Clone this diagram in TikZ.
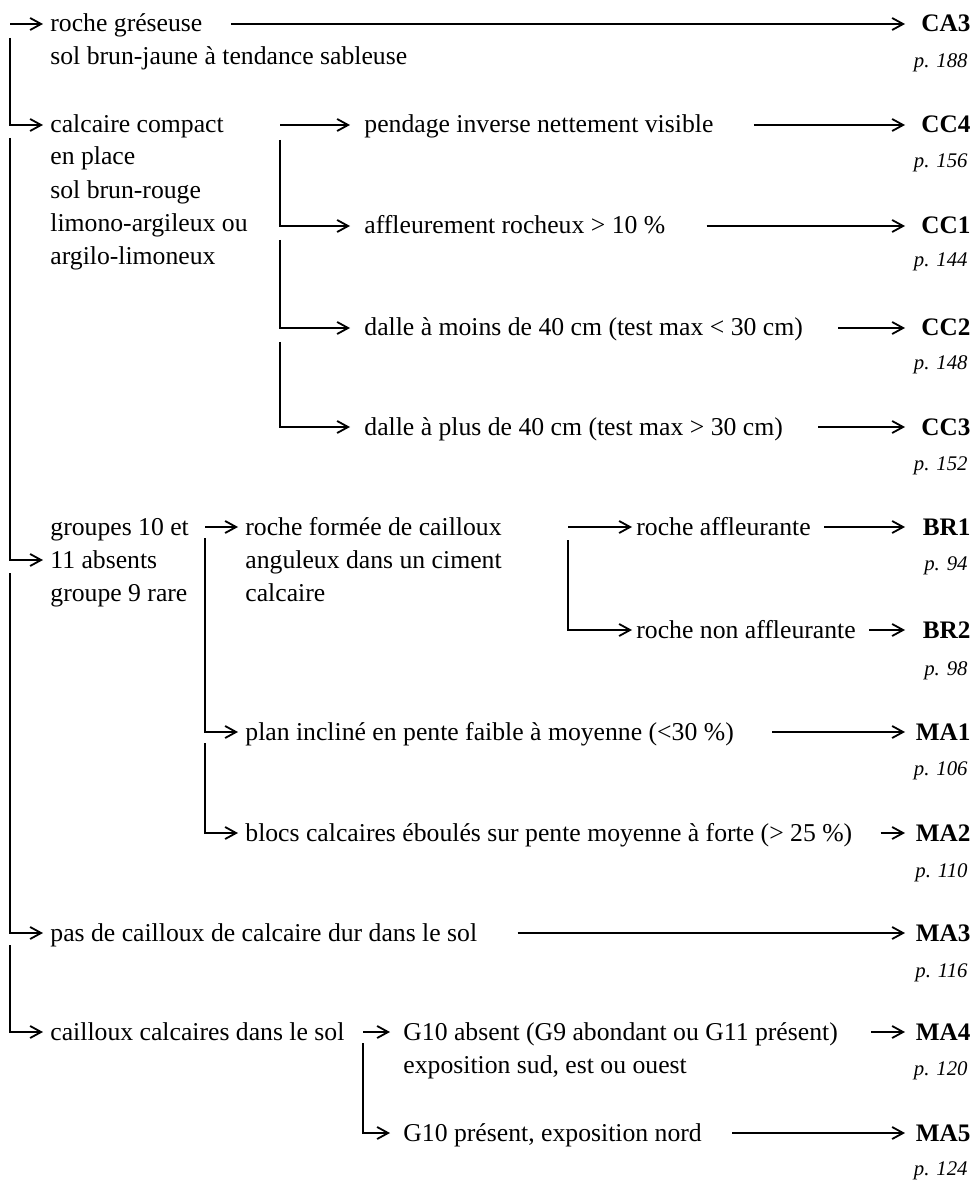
\documentclass[tikz,border=0pt]{standalone}
\usepackage{fontspec}
\setmainfont{Liberation Serif}
\usetikzlibrary{arrows.meta}
\begin{document}
\begin{tikzpicture}[x=0.5pt,y=-0.5pt,
  txt/.style={anchor=base west, inner sep=0pt, text height=10pt, text depth=2pt, font=\fontsize{12.85}{16.5}\selectfont},
  code/.style={anchor=base west, inner sep=0pt, text height=10pt, text depth=2pt, text width=30pt, align=right, font=\fontsize{12.6}{15}\selectfont\bfseries},
  pg/.style={anchor=base east, inner sep=0pt, font=\fontsize{10.4}{13}\selectfont\itshape},
  arr/.style={line width=0.9pt, -{Straight Barb[length=5.5pt,width=6pt]}, shorten >=3.5pt},
  tocode/.style={arr, shorten >=2.5pt}
]
\useasboundingbox (0,0) rectangle (974,1181);
% column positions
\coordinate (xT) at (10,0);
\coordinate (xB1) at (280,0);
\coordinate (xB2) at (205,0);
\coordinate (xB3) at (568,0);
\coordinate (xB4) at (363,0);

% ---- texts
\node[txt] (rg) at (50,32) {roche gréseuse};
\node[txt] (rg2) at (50,65) {sol brun-jaune à tendance sableuse};
\node[code] (CA3) at (910,32) {CA3};
\node[pg] (pCA3) at (968,68) {p. 188};

\node[txt] (cc) at (50,133) {calcaire compact};
\node[txt] (cc2) at (50,165) {en place};
\node[txt] (cc3) at (50,199) {sol brun-rouge};
\node[txt] (cc4) at (50,232) {limono-argileux ou};
\node[txt] (cc5) at (50,265) {argilo-limoneux};

\node[txt] (pi) at (364,133) {pendage inverse nettement visible};
\node[code] (CC4) at (910,133) {CC4};
\node[pg] (pCC4) at (968,168) {p. 156};

\node[txt] (af) at (364,234) {affleurement rocheux > 10 \%};
\node[code] (CC1) at (910,234) {CC1};
\node[pg] (pCC1) at (968,267) {p. 144};

\node[txt] (dm) at (364,336) {dalle à moins de 40 cm (test max < 30 cm)};
\node[code] (CC2) at (910,336) {CC2};
\node[pg] (pCC2) at (968,370) {p. 148};

\node[txt] (dp) at (364,435) {dalle à plus de 40 cm (test max > 30 cm)};
\node[code] (CC3) at (910,435) {CC3};
\node[pg] (pCC3) at (968,470) {p. 152};

\node[txt] (g1) at (50,535) {groupes 10 et};
\node[txt] (g2) at (50,568) {11 absents};
\node[txt] (g3) at (50,601) {groupe 9 rare};

\node[txt] (rf) at (245,535) {roche formée de cailloux};
\node[txt] (rf2) at (245,568) {anguleux dans un ciment};
\node[txt] (rf3) at (245,601) {calcaire};

\node[txt] (ra) at (636,535) {roche affleurante};
\node[code] (BR1) at (910,535) {BR1};
\node[pg] (pBR1) at (968,570) {p. 94};

\node[txt] (rn) at (636,638) {roche non affleurante};
\node[code] (BR2) at (910,638) {BR2};
\node[pg] (pBR2) at (968,675) {p. 98};

\node[txt] (pl) at (245,740) {plan incliné en pente faible à moyenne (<30 \%)};
\node[code] (MA1) at (910,740) {MA1};
\node[pg] (pMA1) at (968,775) {p. 106};

\node[txt] (bl) at (245,841) {blocs calcaires éboulés sur pente moyenne à forte (> 25 \%)};
\node[code] (MA2) at (910,841) {MA2};
\node[pg] (pMA2) at (968,877) {p. 110};

\node[txt] (pc) at (50,941) {pas de cailloux de calcaire dur dans le sol};
\node[code] (MA3) at (910,941) {MA3};
\node[pg] (pMA3) at (968,977) {p. 116};

\node[txt] (cs) at (50,1040) {cailloux calcaires dans le sol};
\node[txt] (ga) at (403,1040) {G10 absent (G9 abondant ou G11 présent)};
\node[txt] (ga2) at (403,1073) {exposition sud, est ou ouest};
\node[code] (MA4) at (910,1040) {MA4};
\node[pg] (pMA4) at (968,1075) {p. 120};

\node[txt] (gp) at (403,1141) {G10 présent, exposition nord};
\node[code] (MA5) at (910,1141) {MA5};
\node[pg] (pMA5) at (968,1175) {p. 124};

% ---- trunk
\draw[arr] (rg.west -| xT) -- (rg.west);
\draw[arr] (10,38) |- (cc.west);
\draw[arr] (10,138) |- (g2.west);
\draw[arr] (10,573) |- (pc.west);
\draw[arr] (10,945) |- (cs.west);

% ---- branch from calcaire compact
\draw[arr, shorten >=7pt] (cc.west -| xB1) -- (pi.west);
\draw[arr, shorten >=7pt] (280,140) |- (af.west);
\draw[arr, shorten >=7pt] (280,240) |- (dm.west);
\draw[arr, shorten >=7pt] (280,342) |- (dp.west);

% ---- branch from groupes
\draw[arr] (g1.west -| xB2) -- (rf.west);
\draw[arr] (205,538) |- (pl.west);
\draw[arr] (205,743) |- (bl.west);

% ---- branch from roche formee
\draw[arr, shorten >=2pt] (rf.west -| xB3) -- (ra.west);
\draw[arr, shorten >=2pt] (568,540) |- (rn.west);

% ---- branch from cailloux calcaires
\draw[arr, shorten >=6.5pt] (cs.west -| xB4) -- (ga.west);
\draw[arr, shorten >=6.5pt] (363,1043) |- (gp.west);

% ---- to codes
\draw[tocode, shorten <=14pt] (rg.east) -- (CA3.west);
\draw[tocode, shorten <=20pt] (pi.east) -- (CC4.west);
\draw[tocode, shorten <=20.5pt] (af.east) -- (CC1.west);
\draw[tocode, shorten <=17.5pt] (dm.east) -- (CC2.west);
\draw[tocode, shorten <=17.5pt] (dp.east) -- (CC3.west);
\draw[tocode, shorten <=6.5pt] (ra.east) -- (BR1.west);
\draw[tocode, shorten <=6.5pt] (rn.east) -- (BR2.west);
\draw[tocode, shorten <=19pt] (pl.east) -- (MA1.west);
\draw[tocode, shorten <=14pt] (bl.east) -- (MA2.west);
\draw[tocode, shorten <=20pt] (pc.east) -- (MA3.west);
\draw[tocode, shorten <=16.5pt] (ga.east) -- (MA4.west);
\draw[tocode, shorten <=15pt] (gp.east) -- (MA5.west);
\end{tikzpicture}
\end{document}
